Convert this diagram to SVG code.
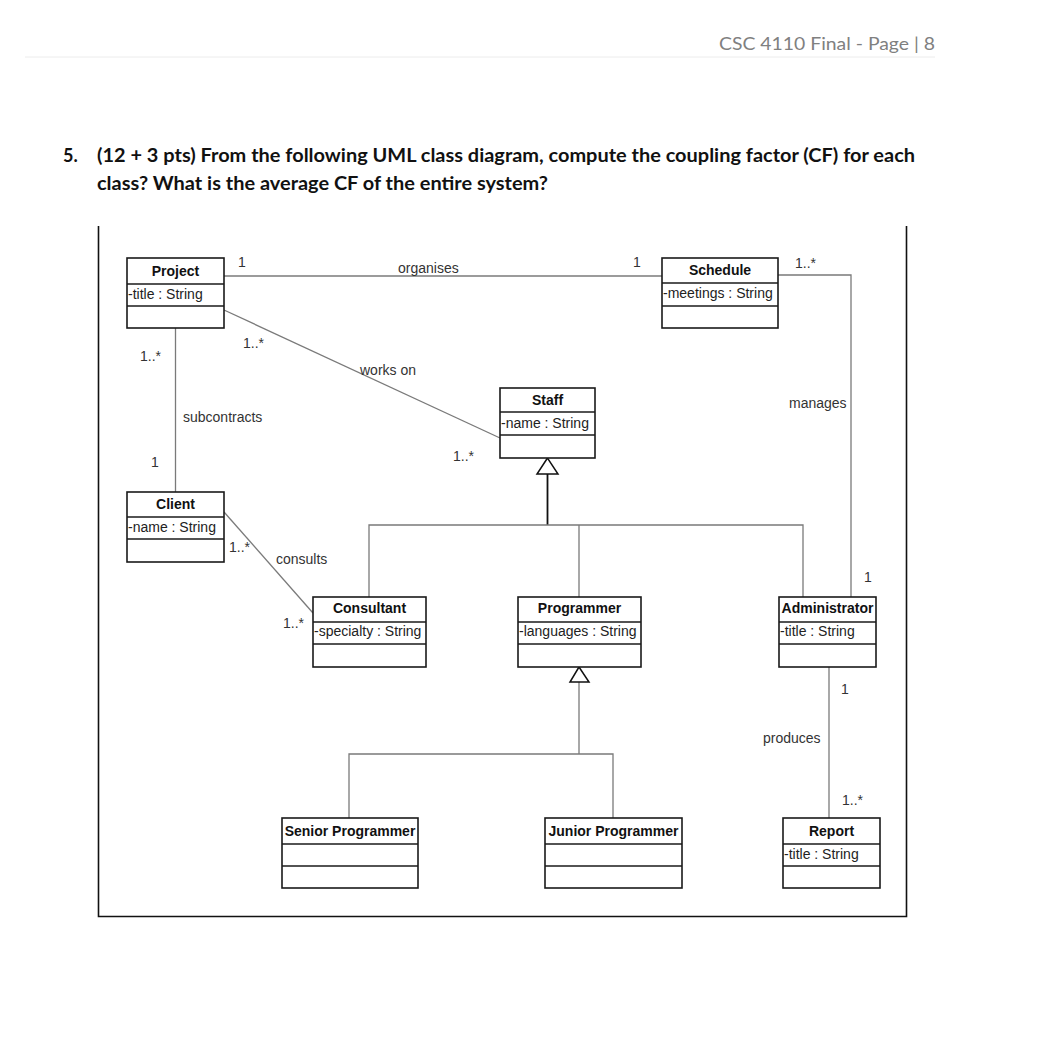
<svg xmlns="http://www.w3.org/2000/svg" width="1039" height="1049" viewBox="0 0 1039 1049">
<style>
.box{fill:#fff;stroke:#1a1a1a;stroke-width:1.6}
.sep{stroke:#1a1a1a;stroke-width:1.4}
.assoc{fill:none;stroke:#7a7a7a;stroke-width:1.3}
.gen{fill:none;stroke:#111;stroke-width:1.8}
.name{font-family:"Liberation Sans",Arial,sans-serif;font-size:14px;font-weight:bold;fill:#111;text-anchor:middle}
.attr{font-family:"Liberation Sans",Arial,sans-serif;font-size:14px;fill:#222}
.lbl{font-family:"Liberation Sans",Arial,sans-serif;font-size:14px;fill:#333}
.q{font-family:Lato,"Open Sans",sans-serif;font-size:18px;font-weight:bold;fill:#111}
.hdr{font-family:Lato,"Open Sans",sans-serif;font-size:17px;fill:#808080}
</style>
<rect x="0" y="0" width="1039" height="1049" fill="#fff"/>
<g id="page">
<text class="hdr" x="719" y="50" textLength="216" lengthAdjust="spacingAndGlyphs">CSC 4110 Final - Page | 8</text>
<line x1="25" y1="57" x2="935" y2="57" stroke="#ececec" stroke-width="1"/>
<text class="q" x="63" y="162">5.</text>
<text class="q" x="97" y="162" textLength="818" lengthAdjust="spacingAndGlyphs">(12 + 3 pts) From the following UML class diagram, compute the coupling factor (CF) for each</text>
<text class="q" x="97" y="190" textLength="451" lengthAdjust="spacingAndGlyphs">class? What is the average CF of the entire system?</text>
<path d="M98.5 226 V916.5 H906.5 V226" fill="none" stroke="#111" stroke-width="1.6"/>
</g>
<g id="connectors">
<path class="assoc" d="M224 276 H663"/>
<path class="assoc" d="M778 275 H851 V597"/>
<path class="assoc" d="M224 310 L500 438"/>
<path class="assoc" d="M175.5 328 V492"/>
<path class="assoc" d="M224 512 L313 613"/>
<path class="assoc" d="M829 667 V818"/>
<path class="gen" d="M547.5 474 V525"/>
<path class="assoc" d="M369 597 V525 H803 V597 M579 525 V597"/>
<polygon points="547.5,458 537,474 558,474" fill="#fff" stroke="#111" stroke-width="1.5"/>
<path class="assoc" d="M579 682 V754 M349 818 V754 H613 V818"/>
<polygon points="579,667 570,682 589,682" fill="#fff" stroke="#111" stroke-width="1.5"/>
<text class="lbl" x="238" y="267">1</text>
<text class="lbl" x="398" y="273">organises</text>
<text class="lbl" x="633" y="267">1</text>
<text class="lbl" x="795" y="268">1..*</text>
<text class="lbl" x="243" y="348">1..*</text>
<text class="lbl" x="140" y="361">1..*</text>
<text class="lbl" x="360" y="375">works on</text>
<text class="lbl" x="789" y="408">manages</text>
<text class="lbl" x="183" y="422">subcontracts</text>
<text class="lbl" x="453" y="461">1..*</text>
<text class="lbl" x="151" y="467">1</text>
<text class="lbl" x="229" y="552">1..*</text>
<text class="lbl" x="276" y="564">consults</text>
<text class="lbl" x="864" y="582">1</text>
<text class="lbl" x="283" y="628">1..*</text>
<text class="lbl" x="841" y="694">1</text>
<text class="lbl" x="763" y="743">produces</text>
<text class="lbl" x="842" y="805">1..*</text>
</g>
<g id="Project">
<rect class="box" x="127" y="258" width="97" height="70"/>
<line class="sep" x1="127" y1="284" x2="224" y2="284"/><line class="sep" x1="127" y1="306" x2="224" y2="306"/>
<text class="name" x="175.5" y="276">Project</text>
<text class="attr" x="128" y="299">-title : String</text>
</g>
<g id="Schedule">
<rect class="box" x="662" y="258" width="116" height="70"/>
<line class="sep" x1="662" y1="283" x2="778" y2="283"/><line class="sep" x1="662" y1="306" x2="778" y2="306"/>
<text class="name" x="720" y="275">Schedule</text>
<text class="attr" x="663" y="298">-meetings : String</text>
</g>
<g id="Staff">
<rect class="box" x="500" y="388" width="95" height="70"/>
<line class="sep" x1="500" y1="412" x2="595" y2="412"/><line class="sep" x1="500" y1="435" x2="595" y2="435"/>
<text class="name" x="547.5" y="405">Staff</text>
<text class="attr" x="501" y="428">-name : String</text>
</g>
<g id="Client">
<rect class="box" x="127" y="492" width="97" height="70"/>
<line class="sep" x1="127" y1="517" x2="224" y2="517"/><line class="sep" x1="127" y1="539" x2="224" y2="539"/>
<text class="name" x="175.5" y="509">Client</text>
<text class="attr" x="128" y="532">-name : String</text>
</g>
<g id="Consultant">
<rect class="box" x="313" y="597" width="113" height="70"/>
<line class="sep" x1="313" y1="622" x2="426" y2="622"/><line class="sep" x1="313" y1="644" x2="426" y2="644"/>
<text class="name" x="369.5" y="613">Consultant</text>
<text class="attr" x="314" y="636">-specialty : String</text>
</g>
<g id="Programmer">
<rect class="box" x="518" y="597" width="123" height="70"/>
<line class="sep" x1="518" y1="622" x2="641" y2="622"/><line class="sep" x1="518" y1="644" x2="641" y2="644"/>
<text class="name" x="579.5" y="613">Programmer</text>
<text class="attr" x="519" y="636">-languages : String</text>
</g>
<g id="Administrator">
<rect class="box" x="779" y="597" width="97" height="70"/>
<line class="sep" x1="779" y1="622" x2="876" y2="622"/><line class="sep" x1="779" y1="644" x2="876" y2="644"/>
<text class="name" x="827.5" y="613">Administrator</text>
<text class="attr" x="780" y="636">-title : String</text>
</g>
<g id="SeniorProgrammer">
<rect class="box" x="282" y="818" width="136" height="70"/>
<line class="sep" x1="282" y1="844" x2="418" y2="844"/><line class="sep" x1="282" y1="866" x2="418" y2="866"/>
<text class="name" x="350" y="836">Senior Programmer</text>
</g>
<g id="JuniorProgrammer">
<rect class="box" x="545" y="818" width="137" height="70"/>
<line class="sep" x1="545" y1="844" x2="682" y2="844"/><line class="sep" x1="545" y1="866" x2="682" y2="866"/>
<text class="name" x="613.5" y="836">Junior Programmer</text>
</g>
<g id="Report">
<rect class="box" x="783" y="818" width="97" height="70"/>
<line class="sep" x1="783" y1="844" x2="880" y2="844"/><line class="sep" x1="783" y1="866" x2="880" y2="866"/>
<text class="name" x="831.5" y="836">Report</text>
<text class="attr" x="784" y="859">-title : String</text>
</g>
</svg>
